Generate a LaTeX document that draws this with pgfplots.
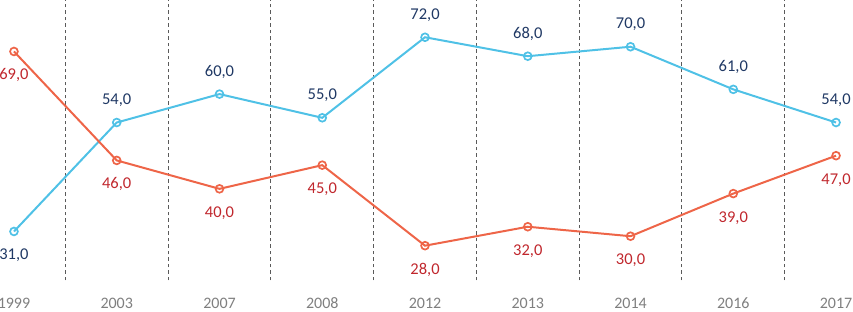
\documentclass[border=0pt]{standalone}
\usepackage{fontspec}
\setmainfont{Carlito}
\usepackage{pgfplots}
\pgfplotsset{compat=1.18}
\definecolor{bl}{RGB}{79,193,230}
\definecolor{rd}{RGB}{238,101,72}
\definecolor{bltxt}{RGB}{31,56,100}
\definecolor{rdtxt}{RGB}{192,39,45}
\definecolor{tk}{RGB}{127,127,127}
\definecolor{gr}{RGB}{90,90,90}
\begin{document}
\begin{tikzpicture}
\path (0pt,0pt) rectangle (853pt,311pt);
\begin{axis}[
  at={(0pt,31pt)}, anchor=south west,
  scale only axis, width=853pt, height=280pt,
  xmin=-0.136, xmax=8.165, ymin=20.66, ymax=79.77,
  axis line style={draw=none},
  xtick={0,...,8},
  xticklabels={1999,2003,2007,2008,2012,2013,2014,2016,2017},
  ytick=\empty,
  major tick length=0pt,
  x tick label style={overlay, font=\fontsize{16}{19}\selectfont, text=tk, anchor=base, yshift=-28pt},
  extra x ticks={0.5,1.5,2.5,3.5,4.5,5.5,6.5,7.5},
  extra x tick labels={},
  extra x tick style={grid=major, major grid style={gr, line width=0.9pt, dash pattern=on 3.5pt off 3pt}},
  clip=false,
  every node near coord/.append style={overlay, font=\fontsize{16.5}{19}\selectfont},
]
\addplot[bl, line width=2pt, mark=o, mark size=3.9pt, mark options={fill=white, line width=1.7pt}]
  coordinates {(0,31)(1,54)(2,60)(3,55)(4,72)(5,68)(6,70)(7,61)(8,54)};
\addplot[rd, line width=2pt, mark=o, mark size=3.9pt, mark options={fill=white, line width=1.7pt}]
  coordinates {(0,69)(1,46)(2,40)(3,45)(4,28)(5,32)(6,30)(7,39)(8,47)};
% labels above (blue)
\addplot[draw=none, mark=none, nodes near coords={\pgfmathprintnumber[fixed,fixed zerofill,precision=1,use comma,assume math mode=true]{\pgfplotspointmeta}},
  every node near coord/.append style={anchor=base, yshift=18pt, text=bltxt}]
  coordinates {(1,54)(2,60)(3,55)(4,72)(5,68)(6,70)(7,61)(8,54)};
% label below (blue)
\addplot[draw=none, mark=none, nodes near coords={\pgfmathprintnumber[fixed,fixed zerofill,precision=1,use comma,assume math mode=true]{\pgfplotspointmeta}},
  every node near coord/.append style={anchor=base, yshift=-28.5pt, text=bltxt}]
  coordinates {(0,31)};
% labels below (red)
\addplot[draw=none, mark=none, nodes near coords={\pgfmathprintnumber[fixed,fixed zerofill,precision=1,use comma,assume math mode=true]{\pgfplotspointmeta}},
  every node near coord/.append style={anchor=base, yshift=-28.5pt, text=rdtxt}]
  coordinates {(0,69)(1,46)(2,40)(3,45)(4,28)(5,32)(6,30)(7,39)(8,47)};
\end{axis}
\end{tikzpicture}
\end{document}
